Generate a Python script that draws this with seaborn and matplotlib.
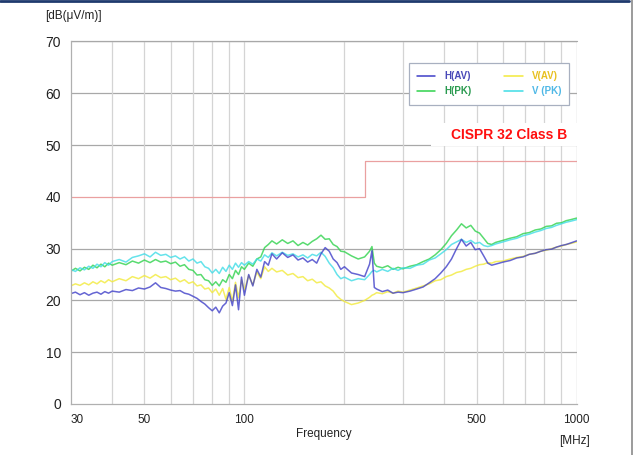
import matplotlib
matplotlib.use('Agg')
import matplotlib.pyplot as plt
from matplotlib.lines import Line2D
import numpy as np
import pandas as pd
import seaborn as sns

# frequencies in MHz (shared by all traces)
freq = [30, 31, 32, 33, 34, 35, 36, 37, 38, 39, 40, 42, 44, 46, 48, 50, 52, 54, 56, 58, 60,
        62, 64, 66, 68, 70, 72, 74, 76, 78, 80, 82, 84, 86, 88, 90, 92, 94, 96, 98, 100,
        103, 106, 109, 112, 115, 118, 121, 125, 130, 135, 140, 145, 150, 155, 160, 165, 170,
        175, 180, 185, 190, 195, 200, 210, 220, 230, 238, 242, 246, 250, 260, 270, 280, 290,
        300, 315, 330, 345, 360, 375, 390, 405, 420, 435, 450, 465, 480, 495, 510, 525, 540,
        555, 570, 600, 630, 660, 690, 720, 750, 780, 810, 840, 870, 900, 930, 960, 1000]

h_av = [21.3, 21.6, 21.1, 21.5, 21.0, 21.4, 21.6, 21.2, 21.7, 21.4, 21.8,
        21.6, 22.1, 21.9, 22.4, 22.2, 22.6, 23.4, 22.5, 22.3, 22.0,
        21.8, 21.9, 21.4, 21.2, 20.8, 20.4, 19.8, 19.3, 18.6, 18.0,
        18.7, 17.6, 18.9, 19.5, 21.5, 19.0, 23.0, 18.2, 24.5, 21.0,
        25.0, 22.8, 26.0, 24.5, 27.5, 26.8, 29.0, 28.0, 29.2, 28.3, 28.8, 27.8, 28.2, 27.4,
        27.9, 27.2, 29.0, 30.2, 29.5, 28.0, 27.3, 26.0, 26.5, 25.3, 25.0, 24.6, 27.0, 29.6,
        22.5, 22.2, 21.7, 22.0, 21.4, 21.6, 21.5, 21.8, 22.2, 22.6, 23.4, 24.2, 25.3, 26.5,
        28.0, 30.0, 31.8, 30.5, 31.2, 29.8, 30.0, 28.6, 27.2, 26.8, 27.0, 27.4, 27.7, 28.2,
        28.4, 28.9, 29.1, 29.5, 29.8, 29.9, 30.3, 30.6, 30.8, 31.1, 31.5]

h_pk = [25.6, 26.2, 25.7, 26.4, 26.0, 26.8, 26.3, 27.0, 26.5, 27.2, 26.8,
        27.3, 26.9, 27.6, 27.2, 27.8, 27.3, 27.9, 27.4, 27.6, 27.1,
        27.4, 26.6, 26.9, 26.0, 25.8, 24.9, 25.0, 24.0, 23.8, 22.9,
        23.6, 22.8, 24.0, 23.5, 25.0, 24.2, 25.8, 25.0, 26.5, 26.0,
        27.2, 26.6, 28.0, 28.4, 30.2, 30.8, 31.5, 30.9, 31.7, 31.0, 31.5, 30.6, 31.2, 30.7,
        31.4, 31.9, 32.6, 31.8, 31.9, 30.8, 30.4, 29.5, 29.4, 28.6, 28.0, 28.4, 29.5, 30.4,
        27.2, 26.6, 26.3, 26.7, 26.0, 26.4, 26.1, 26.6, 26.9, 27.5, 28.0, 28.8, 29.8, 31.0,
        32.5, 33.6, 34.8, 34.0, 34.5, 33.4, 33.0, 32.0, 31.0, 30.8, 31.2, 31.6, 32.0, 32.3,
        32.9, 33.1, 33.6, 33.8, 34.3, 34.4, 34.9, 35.0, 35.4, 35.6, 35.9]

v_av = [22.8, 23.2, 22.9, 23.4, 23.0, 23.6, 23.2, 23.8, 23.4, 24.0, 23.6,
        24.2, 23.8, 24.6, 24.2, 24.8, 24.3, 25.0, 24.4, 24.6, 24.0,
        24.3, 23.6, 24.0, 23.3, 23.6, 22.8, 23.0, 22.2, 22.4, 21.5,
        22.2, 21.0, 22.3, 20.2, 22.5, 19.8, 23.5, 20.5, 24.0, 22.0,
        24.8, 23.0, 25.5, 24.2, 26.5, 25.6, 26.2, 25.5, 25.8, 24.9, 25.2, 24.4, 24.6, 23.8,
        24.1, 23.4, 23.6, 22.8, 22.4, 21.8, 20.8, 20.2, 19.8, 19.2, 19.5, 20.0, 20.6, 21.0,
        21.2, 21.5, 21.3, 21.7, 21.4, 21.8, 21.6, 22.0, 22.4, 22.8, 23.2, 23.8, 24.0, 24.6,
        24.9, 25.4, 25.6, 26.0, 26.2, 26.6, 26.9, 27.0, 27.3, 27.2, 27.5, 27.6, 28.0, 28.3,
        28.5, 28.9, 29.1, 29.5, 29.7, 30.0, 30.3, 30.5, 30.8, 31.0, 31.3]

v_pk = [26.0, 25.6, 26.3, 25.9, 26.6, 26.2, 27.0, 26.5, 27.3, 26.8, 27.5,
        27.9, 27.4, 28.3, 28.6, 29.0, 28.4, 29.3, 28.7, 28.9, 28.3,
        28.6, 28.0, 28.4, 27.6, 28.0, 27.2, 27.5, 26.5, 26.2, 25.3,
        26.0, 25.2, 26.4, 25.6, 26.8, 26.0, 27.2, 26.4, 27.3, 26.8,
        27.5, 27.0, 28.0, 27.6, 28.8, 28.3, 29.2, 28.6, 29.3, 28.7, 29.0, 28.4, 28.8, 28.2,
        28.9, 28.6, 29.3, 28.5, 27.2, 26.3, 25.0, 24.2, 24.5, 23.8, 24.2, 24.0, 25.0, 25.6,
        25.8, 25.5, 26.0, 25.6, 26.2, 25.8, 26.3, 26.2, 26.8, 27.0, 27.8, 28.2, 29.0, 29.8,
        30.8, 31.3, 31.8, 31.2, 31.6, 31.0, 31.2, 30.6, 30.4, 30.6, 30.9, 31.3, 31.7, 32.0,
        32.5, 32.8, 33.2, 33.5, 33.9, 34.1, 34.5, 34.8, 35.1, 35.3, 35.6]

# CISPR 32 class B limit
limit_freq = [30, 230, 230, 1000]
limit_level = [40, 40, 47, 47]

y_ticks = [0, 10, 20, 30, 40, 50, 60, 70]
x_ticks = [30, 50, 100, 500, 1000]
x_grid = [40, 50, 60, 70, 80, 90, 100, 200, 300, 400, 500, 600, 700, 800, 900]

df = pd.DataFrame({'freq': freq, 'H(AV)': h_av, 'H(PK)': h_pk, 'V(AV)': v_av, 'V (PK)': v_pk})

sns.set_style('white')
plt.rcParams['font.family'] = ['Liberation Sans', 'DejaVu Sans']

fig = plt.figure(figsize=(6.34, 4.55), dpi=100)
ax = fig.add_axes([0.1115, 0.1121, 0.7981, 0.7967])

# grid
for v in y_ticks[1:]:
    if v != 40:
        ax.axhline(v, color='#a8a8a8', lw=0.9, zorder=0)
for f in x_grid:
    ax.axvline(f, color='#d4d4d4', lw=0.9, zorder=0)
ax.axvline(1000, color='#b0b0b0', lw=0.9, zorder=0)

# limit line
sns.lineplot(x=limit_freq, y=limit_level, ax=ax, color='#eaa0a0', lw=0.9,
             sort=False, estimator=None, zorder=1)

traces = [('V(AV)', '#f2ea3a', '#e8c020'),
          ('H(PK)', '#2fd24c', '#2a9a50'),
          ('V (PK)', '#3fdce6', '#4fb8e6'),
          ('H(AV)', '#3f3fc8', '#4848b8')]
for name, col, _ in traces:
    sns.lineplot(data=df, x='freq', y=name, ax=ax, color=col, lw=1.1, alpha=0.8,
                 estimator=None, label=name, zorder=2)

ax.set_xscale('log')
ax.set_xlim(30, 1000)
ax.set_ylim(0, 70)
ax.set_xticks(x_ticks)
ax.set_xticklabels([str(t) for t in x_ticks])
ax.xaxis.set_minor_locator(matplotlib.ticker.NullLocator())
ax.set_yticks(y_ticks)
ax.tick_params(axis='y', labelsize=10, length=0, pad=7, colors='#222222')
ax.tick_params(axis='x', labelsize=8.5, length=0, pad=7, colors='#222222')
ax.get_xticklabels()[0].set_ha('left')
ax.set_xlabel('Frequency', fontsize=8.5, color='#222222', labelpad=2)
ax.set_ylabel('')
for s in ['top', 'right']:
    ax.spines[s].set_visible(False)
for s in ['left', 'bottom']:
    ax.spines[s].set_color('#b0b0b0')
    ax.spines[s].set_linewidth(0.9)
ax.axhline(70, color='#a8a8a8', lw=0.9, zorder=0, clip_on=False)

# legend
order = ['H(AV)', 'H(PK)', 'V(AV)', 'V (PK)']
handles, labels = ax.get_legend_handles_labels()
hmap = dict(zip(labels, handles))
leg = ax.legend([hmap[k] for k in order], order, ncol=2, loc='upper left',
                bbox_to_anchor=(0.668, 0.941), borderaxespad=0, fancybox=False,
                edgecolor='#a8b0c0', framealpha=1, handlelength=1.9, handletextpad=0.9,
                columnspacing=3.4, borderpad=0.85, labelspacing=0.55,
                prop={'size': 7, 'weight': 'bold'})
leg.get_frame().set_linewidth(0.9)
for h in leg.legend_handles:
    h.set_alpha(1)
txtcol = {name: tc for name, _, tc in traces}
for t in leg.get_texts():
    t.set_color(txtcol[t.get_text()])

# limit label box
fig.patches.append(plt.Rectangle((430.7 / 634, 1 - 146 / 455), 156 / 634, 23 / 455,
                                 transform=fig.transFigure, facecolor='white',
                                 edgecolor='none', zorder=3))
fig.text(509 / 634, 1 - 135 / 455, 'CISPR 32 Class B', color='#ff1010', fontsize=10,
         fontweight='bold', ha='center', va='center', zorder=4)

fig.text(45 / 634, 1 - 16 / 455, '[dB(μV/m)]', fontsize=8.5, color='#222222',
         ha='left', va='center')
fig.text(590 / 634, 1 - 441 / 455, '[MHz]', fontsize=8.5, color='#222222',
         ha='right', va='center')

# slide frame
fig.add_artist(Line2D([0, 629 / 634], [1 - 1 / 455, 1 - 1 / 455], color='#1f3a6e', lw=2))
fig.add_artist(Line2D([631.5 / 634, 631.5 / 634], [0, 1], color='#8a8a8a', lw=1.2))

fig.savefig('out.png', dpi=100)
